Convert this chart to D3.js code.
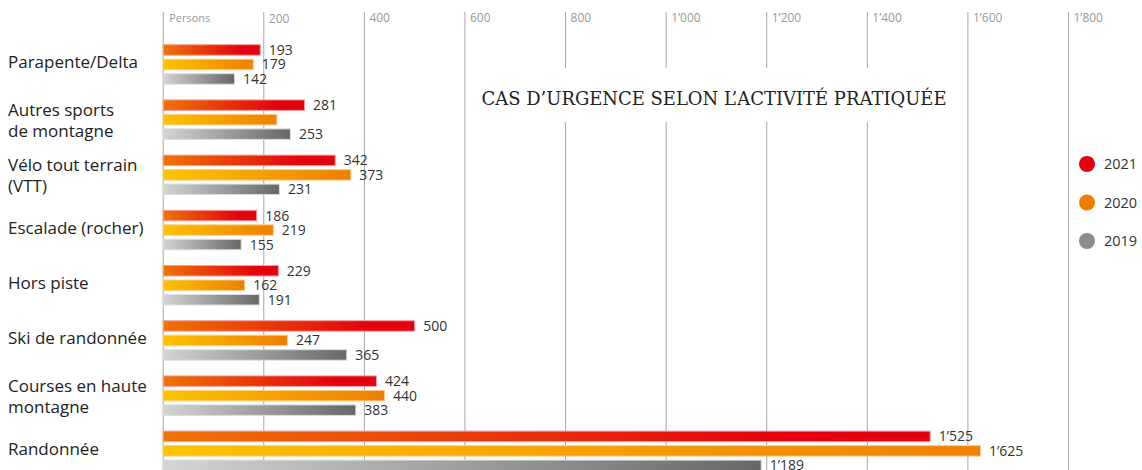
<!DOCTYPE html>
<html>
<head>
<meta charset="utf-8">
<script src="https://cdn.jsdelivr.net/npm/d3@7"></script>
<style>
  html, body { margin: 0; padding: 0; background: #fff; }
  svg { display: block; }
</style>
</head>
<body>
<svg id="chart" width="1142" height="470"></svg>
<script>
// ---- data ----
const categories = ["Parapente/Delta", "Autres sports de montagne", "Vélo tout terrain (VTT)", "Escalade (rocher)", "Hors piste", "Ski de randonnée", "Courses en haute montagne", "Randonnée"];
const categoryLines = [["Parapente/Delta"], ["Autres sports", "de montagne"], ["Vélo tout terrain", "(VTT)"], ["Escalade (rocher)"], ["Hors piste"], ["Ski de randonnée"], ["Courses en haute", "montagne"], ["Randonnée"]];
const years = ["2021", "2020", "2019"];
const values2021 = [193, 281, 342, 186, 229, 500, 424, 1525];
const values2020 = [179, 226, 373, 219, 162, 247, 440, 1625];
const values2019 = [142, 253, 231, 155, 191, 365, 383, 1189];
const hiddenLabels2020 = ["Autres sports de montagne"];
const tickValues = [0, 200, 400, 600, 800, 1000, 1200, 1400, 1600, 1800];
const zeroTickLabel = "Persons";
const title = "CAS D’URGENCE SELON L’ACTIVITÉ PRATIQUÉE";

const seriesValues = { "2021": values2021, "2020": values2020, "2019": values2019 };
const gradients = {
  "2021": { from: "#ee7404", to: "#e3000f", edge: "#f3a0a0" },
  "2020": { from: "#fdc300", to: "#ee7f00", edge: "#f9cf8a" },
  "2019": { from: "#d4d4d4", to: "#676767", edge: "#dddddd" }
};
const legendColors = { "2021": "#e3000f", "2020": "#ef7d00", "2019": "#8c8c8c" };

const fmt = d3.formatLocale({ decimal: ".", thousands: "’", grouping: [3], currency: ["", ""] }).format(",");

const svg = d3.select("#chart");
const defs = svg.append("defs");
years.forEach(yr => {
  const g = defs.append("linearGradient").attr("id", "grad" + yr)
    .attr("x1", "0").attr("x2", "1").attr("y1", "0").attr("y2", "0");
  g.append("stop").attr("offset", "0").attr("stop-color", gradients[yr].from);
  g.append("stop").attr("offset", yr === "2021" ? "0.82" : "1").attr("stop-color", gradients[yr].to);
  g.append("stop").attr("offset", "1").attr("stop-color", gradients[yr].to);
});

// ---- scales ----
const x = d3.scaleLinear().domain([0, 1800]).range([162.7, 1068]);
const y0 = d3.scaleBand().domain(categories).range([44.7, 44.7 + 8 * 55.2]).padding(0);
const y1 = d3.scaleBand().domain(years).range([0, 39.5]).paddingInner(4 / 14.5).paddingOuter(0);

// ---- axis / gridlines ----
const gridTop = 12;
const axis = d3.axisTop(x).tickValues(tickValues)
  .tickSize(-(470 - gridTop))
  .tickFormat(d => d === 0 ? zeroTickLabel : fmt(d));
const axisG = svg.append("g").attr("transform", `translate(0,${gridTop})`).call(axis);
axisG.select(".domain").remove();
axisG.selectAll(".tick line").attr("stroke", "#a6a6a6").attr("stroke-width", 1);
axisG.selectAll(".tick text")
  .attr("x", d => d === 0 ? 6 : 5)
  .attr("y", d => d === 200 ? 11 : 9.5)
  .attr("text-anchor", "start")
  .attr("fill", "#9a9a9a")
  .attr("font-family", "'Open Sans', sans-serif")
  .attr("font-size", d => d === 0 ? 11 : 12);

// gap in gridlines for title
svg.append("rect").attr("x", 472).attr("y", 68).attr("width", 488).attr("height", 54).attr("fill", "#fff");
svg.append("text")
  .attr("x", 714).attr("y", 105)
  .attr("text-anchor", "middle")
  .attr("font-family", "'DejaVu Serif', serif")
  .attr("font-size", 19)
  .attr("textLength", 465).attr("lengthAdjust", "spacingAndGlyphs")
  .attr("fill", "#222")
  .text(title);

// ---- bars ----
const groups = svg.append("g").selectAll("g.cat")
  .data(categories).join("g").attr("class", "cat")
  .attr("transform", d => `translate(0,${y0(d)})`);

groups.each(function(cat, i) {
  const g = d3.select(this);
  years.forEach(yr => {
    const v = seriesValues[yr][i];
    g.append("rect")
      .attr("x", x(0) + 0.5)
      .attr("y", y1(yr))
      .attr("width", x(v) - x(0))
      .attr("height", y1.bandwidth())
      .attr("fill", `url(#grad${yr})`)
      .attr("stroke", gradients[yr].edge)
      .attr("stroke-width", 1);
    if (!(yr === "2020" && hiddenLabels2020.includes(cat))) {
      g.append("text")
        .attr("x", x(v) + 9)
        .attr("y", y1(yr) + y1.bandwidth() / 2)
        .attr("dy", "0.36em")
        .attr("font-family", "'Open Sans', sans-serif")
        .attr("font-size", 14)
        .attr("fill", "#333")
        .text(fmt(v));
    }
  });
  const lines = categoryLines[i];
  const center = 19.75;
  const t = g.append("text")
    .attr("font-family", "'Open Sans', sans-serif")
    .attr("font-size", 17)
    .attr("fill", "#222");
  lines.forEach((ln, k) => {
    const base = lines.length === 1 ? center + 4 : center - 4 + k * 21;
    t.append("tspan").attr("x", 8).attr("y", base).text(ln);
  });
});

// ---- legend ----
const legend = svg.append("g").selectAll("g").data(years).join("g")
  .attr("transform", (d, i) => `translate(1087,${164 + i * 38.5})`);
legend.append("circle").attr("r", 8).attr("fill", d => legendColors[d]);
legend.append("text").attr("x", 17).attr("dy", "0.36em")
  .attr("font-family", "'Open Sans', sans-serif").attr("font-size", 14.5)
  .attr("fill", "#333").text(d => d);
</script>
</body>
</html>
